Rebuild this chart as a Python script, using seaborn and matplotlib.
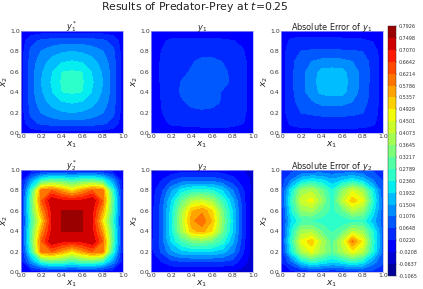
import numpy as np
import matplotlib
matplotlib.use("Agg")
import matplotlib.pyplot as plt
import seaborn as sns

x_grid = [0.0, 0.1, 0.2, 0.3, 0.4, 0.5, 0.6, 0.7, 0.8, 0.9, 1.0]

# contour levels, same as the colorbar ticks
levels = [-0.1065, -0.0637, -0.0208, 0.0220, 0.0648, 0.1076, 0.1504, 0.1932,
          0.2360, 0.2789, 0.3217, 0.3645, 0.4073, 0.4501, 0.4929, 0.5357,
          0.5786, 0.6214, 0.6642, 0.7070, 0.7498, 0.7926]

# values, first row is x2=0
y1_exact = [
    [0, 0, 0, 0, 0, 0, 0, 0, 0, 0, 0],
    [0, .05, .075, .085, .09, .09, .09, .085, .075, .05, 0],
    [0, .075, .11, .13, .145, .15, .145, .13, .11, .075, 0],
    [0, .085, .13, .165, .187, .197, .187, .165, .13, .085, 0],
    [0, .09, .145, .187, .235, .24, .235, .187, .145, .09, 0],
    [0, .09, .15, .197, .24, .26, .24, .197, .15, .09, 0],
    [0, .09, .145, .187, .235, .24, .235, .187, .145, .09, 0],
    [0, .085, .13, .165, .187, .197, .187, .165, .13, .085, 0],
    [0, .075, .11, .13, .145, .15, .145, .13, .11, .075, 0],
    [0, .05, .075, .085, .09, .09, .09, .085, .075, .05, 0],
    [0, 0, 0, 0, 0, 0, 0, 0, 0, 0, 0],
]
y1_pred = [
    [0, 0, 0, 0, 0, 0, 0, 0, 0, 0, 0],
    [0, .012, .028, .032, .035, .038, .04, .04, .036, .024, 0],
    [0, .02, .038, .052, .058, .060, .060, .057, .05, .032, 0],
    [0, .022, .042, .06, .072, .075, .07, .063, .052, .034, 0],
    [0, .024, .048, .07, .082, .088, .08, .062, .055, .036, 0],
    [0, .025, .05, .066, .08, .09, .09, .076, .058, .036, 0],
    [0, .025, .047, .058, .068, .085, .092, .072, .058, .036, 0],
    [0, .025, .045, .054, .062, .072, .074, .064, .05, .033, 0],
    [0, .022, .04, .046, .05, .053, .052, .046, .04, .025, 0],
    [0, .014, .03, .031, .032, .032, .03, .028, .024, .015, 0],
    [0, 0, 0, 0, 0, 0, 0, 0, 0, 0, 0],
]
y1_error = [
    [0, 0, 0, 0, 0, 0, 0, 0, 0, 0, 0],
    [0, .03, .042, .045, .047, .048, .047, .046, .044, .03, 0],
    [0, .048, .066, .07, .074, .075, .075, .072, .066, .042, 0],
    [0, .052, .08, .1, .12, .122, .12, .105, .08, .047, 0],
    [0, .055, .09, .13, .16, .165, .162, .13, .088, .05, 0],
    [0, .056, .092, .135, .168, .178, .168, .135, .09, .05, 0],
    [0, .056, .09, .13, .162, .168, .162, .13, .09, .052, 0],
    [0, .055, .085, .108, .12, .122, .12, .108, .085, .05, 0],
    [0, .048, .066, .07, .072, .072, .07, .068, .064, .042, 0],
    [0, .03, .036, .036, .035, .034, .032, .03, .028, .02, 0],
    [0, 0, 0, 0, 0, 0, 0, 0, 0, 0, 0],
]
y2_exact = [
    [0, 0, 0, 0, 0, 0, 0, 0, 0, 0, 0],
    [0, .13, .25, .30, .29, .26, .29, .30, .25, .13, 0],
    [0, .25, .60, .62, .56, .49, .56, .62, .60, .25, 0],
    [0, .30, .62, .74, .716, .71, .716, .74, .62, .30, 0],
    [0, .29, .56, .716, .7505, .7505, .7505, .716, .56, .29, 0],
    [0, .26, .49, .71, .7505, .79, .7505, .71, .49, .26, 0],
    [0, .29, .56, .716, .7505, .7505, .7505, .716, .56, .29, 0],
    [0, .30, .62, .74, .716, .71, .716, .74, .62, .30, 0],
    [0, .25, .60, .62, .56, .49, .56, .62, .60, .25, 0],
    [0, .13, .25, .30, .29, .26, .29, .30, .25, .13, 0],
    [0, 0, 0, 0, 0, 0, 0, 0, 0, 0, 0],
]
y2_pred = [
    [0, -.01, -.02, -.02, -.02, -.02, -.02, -.03, -.03, -.04, -.05],
    [0, .02, .05, .06, .06, .06, .06, .06, .05, .0, -.05],
    [.01, .07, .14, .18, .19, .19, .19, .17, .12, .03, -.05],
    [.01, .08, .2, .28, .33, .34, .32, .26, .16, .04, -.05],
    [0, .08, .22, .38, .52, .55, .49, .33, .19, .05, -.06],
    [0, .08, .22, .40, .565, .61, .53, .35, .2, .05, -.06],
    [0, .08, .21, .38, .53, .57, .50, .33, .19, .05, -.05],
    [0, .07, .19, .31, .40, .42, .38, .27, .16, .04, -.05],
    [0, .05, .14, .21, .245, .25, .24, .19, .11, .03, -.04],
    [-.01, .02, .06, .085, .09, .09, .09, .07, .04, .0, -.03],
    [-.03, -.02, -.01, 0, 0, 0, 0, 0, -.01, -.02, -.03],
]
y2_error = [
    [0, .01, .02, .03, .03, .03, .03, .04, .05, .05, .05],
    [.02, .09, .2, .26, .23, .2, .22, .26, .22, .13, .07],
    [.02, .22, .39, .46, .38, .31, .39, .47, .41, .24, .09],
    [.02, .25, .46, .52, .40, .30, .42, .59, .48, .26, .09],
    [.02, .23, .38, .39, .32, .27, .31, .41, .37, .24, .09],
    [.02, .19, .27, .27, .26, .24, .25, .26, .26, .17, .08],
    [.02, .23, .36, .38, .31, .265, .31, .40, .36, .22, .08],
    [.03, .25, .43, .47, .37, .25, .41, .52, .46, .25, .08],
    [.04, .22, .37, .40, .33, .24, .35, .44, .38, .22, .07],
    [.04, .11, .19, .22, .2, .16, .19, .22, .18, .11, .06],
    [.05, .05, .06, .06, .07, .07, .07, .07, .06, .06, .05],
]

panels = [
    (y1_exact, r"$y_1^*$", 21, 31),
    (y1_pred, r"$y_1$", 151, 31),
    (y1_error, r"Absolute Error of $y_1$", 281, 31),
    (y2_exact, r"$y_2^*$", 21, 170),
    (y2_pred, r"$y_2$", 151, 170),
    (y2_error, r"Absolute Error of $y_2$", 281, 170),
]

W, H = 423, 289
sns.set_theme(style="white")

fig = plt.figure(figsize=(W / 100, H / 100), dpi=100)
ticks = [0.0, 0.2, 0.4, 0.6, 0.8, 1.0]

for field, title, left, top in panels:
    ax = fig.add_axes([left / W, 1 - (top + 102) / H, 102 / W, 102 / H])
    cs = ax.contourf(x_grid, x_grid, field, levels=levels, cmap="jet")
    ax.set_xlim(0, 1)
    ax.set_ylim(0, 1)
    ax.set_xticks(ticks)
    ax.set_yticks(ticks)
    ax.tick_params(labelsize=4.4, length=0, pad=1, labelcolor="#333333")
    ax.set_xlabel(r"$x_1$", fontsize=6.5, color="#222222", va="center")
    ax.set_ylabel(r"$x_2$", fontsize=6.5, color="#222222", va="center")
    ax.xaxis.set_label_coords(0.5, -0.115)
    ax.yaxis.set_label_coords(-0.155, 0.5)
    ax.set_title(title, fontsize=5.9, pad=1, color="#222222")
    for sp in ax.spines.values():
        sp.set_color("#a9a9e8")
        sp.set_linewidth(0.5)

cax = fig.add_axes([388 / W, 1 - 276 / H, 8 / W, 250 / H])
cb = fig.colorbar(cs, cax=cax, ticks=levels, format="%.4f")
cb.ax.tick_params(labelsize=3.5, length=1, width=0.3, pad=1, color="#555555", labelcolor="#333333")
cb.outline.set_linewidth(0.3)

fig.text(195 / W, 1 - 7 / H, r"Results of Predator-Prey at $t$=0.25", fontsize=7.8,
         ha="center", va="center", color="#222222")

fig.savefig("out.png", dpi=100)
